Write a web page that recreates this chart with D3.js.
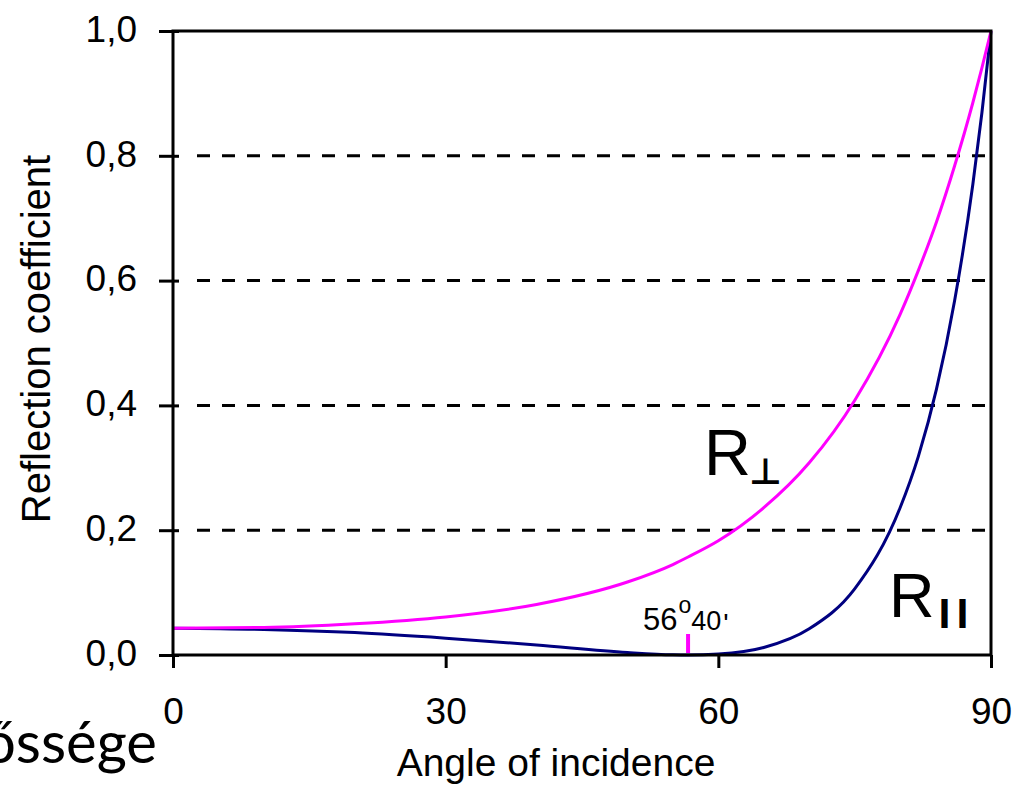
<!DOCTYPE html>
<html lang="en">
<head>
    <meta charset="UTF-8">
    <title>Reflection coefficient</title>
    <style>
        body { margin: 0; background: #fff; }
        text {
            font-family: "Liberation Sans", Arial, sans-serif;
            fill: black;
        }
        .tick text { font-size: 37px; }
        .tick line { stroke: black; stroke-width: 3px; }
        .grid { stroke: black; stroke-width: 3px; stroke-dasharray: 13, 12; }
    </style>
    <script src="https://d3js.org/d3.v7.min.js"></script>
</head>
<body>
    <svg width="1013" height="786"></svg>

    <script>
        // Angle of incidence (degrees) and reflection coefficients
        const angles = [0, 10, 20, 30, 40, 50, 55, 56.67, 60, 65, 70, 75, 80, 82, 84, 86, 88, 89, 90];
        const rPerp  = [0.043, 0.044, 0.050, 0.061, 0.081, 0.117, 0.145, 0.157, 0.183, 0.236, 0.308, 0.408, 0.546, 0.616, 0.694, 0.784, 0.885, 0.941, 1.0];
        const rPar   = [0.043, 0.041, 0.036, 0.027, 0.016, 0.004, 0.0003, 0, 0.0015, 0.012, 0.042, 0.106, 0.236, 0.318, 0.426, 0.568, 0.754, 0.869, 1.0];

        const xTicks = [0, 30, 60, 90];
        const yTicks = [0, 0.2, 0.4, 0.6, 0.8, 1.0];
        const brewster = 56.67;

        const svg = d3.select("svg");
        const mLeft = 173, mRight = 991, mTop = 31, mBottom = 655;

        const x = d3.scaleLinear().domain([0, 90]).range([mLeft, mRight]);
        const y = d3.scaleLinear().domain([0, 1]).range([mBottom, mTop]);

        // Dashed grid lines
        svg.selectAll(".grid")
            .data(yTicks.filter(v => v > 0 && v < 1))
            .enter()
            .append("line")
            .attr("class", "grid")
            .attr("x1", mLeft + 24)
            .attr("x2", mRight)
            .attr("y1", d => y(d))
            .attr("y2", d => y(d));

        // Curves
        const line = d3.line()
            .x(d => x(d[0]))
            .y(d => y(d[1]))
            .curve(d3.curveMonotoneX);

        svg.append("path")
            .datum(angles.map((a, i) => [a, rPar[i]]))
            .attr("d", line)
            .attr("fill", "none")
            .attr("stroke", "#000080")
            .attr("stroke-width", 3);

        svg.append("path")
            .datum(angles.map((a, i) => [a, rPerp[i]]))
            .attr("d", line)
            .attr("fill", "none")
            .attr("stroke", "#ff00ff")
            .attr("stroke-width", 3);

        // Plot frame
        svg.append("rect")
            .attr("x", mLeft)
            .attr("y", mTop)
            .attr("width", mRight - mLeft)
            .attr("height", mBottom - mTop)
            .attr("fill", "none")
            .attr("stroke", "black")
            .attr("stroke-width", 3);

        // Axes
        const yAxis = svg.append("g")
            .attr("transform", `translate(${mLeft},0)`)
            .call(d3.axisLeft(y)
                .tickValues(yTicks)
                .tickFormat(d => d3.format(".1f")(d).replace(".", ","))
                .tickSize(14)
                .tickPadding(22));
        yAxis.select(".domain").remove();
        yAxis.selectAll(".tick line").attr("x1", 6);
        yAxis.selectAll(".tick text").attr("dy", "0.28em");

        const xAxis = svg.append("g")
            .attr("transform", `translate(0,${mBottom})`)
            .call(d3.axisBottom(x)
                .tickValues(xTicks)
                .tickFormat(d3.format("d"))
                .tickSize(13)
                .tickPadding(30));
        xAxis.select(".domain").remove();

        // Axis titles
        svg.append("text")
            .attr("transform", "translate(50,339) rotate(-90)")
            .attr("text-anchor", "middle")
            .style("font-size", "40px")
            .text("Reflection coefficient");

        svg.append("text")
            .attr("x", 556)
            .attr("y", 776)
            .attr("text-anchor", "middle")
            .style("font-size", "39px")
            .text("Angle of incidence");

        // Brewster angle marker
        svg.append("line")
            .attr("x1", x(brewster))
            .attr("x2", x(brewster))
            .attr("y1", mBottom - 21)
            .attr("y2", mBottom - 2)
            .attr("stroke", "#ff00ff")
            .attr("stroke-width", 4);

        const bl = svg.append("text")
            .attr("x", 643)
            .attr("y", 630);
        bl.append("tspan").style("font-size", "31px").text("56");
        bl.append("tspan").style("font-size", "23px").attr("dx", 1).attr("dy", -17).text("o");
        bl.append("tspan").style("font-size", "27px").attr("dx", 0).attr("dy", 17).text("40");
        bl.append("tspan").style("font-size", "28px").attr("dx", 2).attr("dy", 3).text("'");

        // Curve labels
        const lp = svg.append("text")
            .attr("x", 704)
            .attr("y", 475);
        lp.append("tspan").style("font-size", "65px").text("R");
        lp.append("tspan")
            .style("font-family", "DejaVu Sans")
            .style("font-size", "36px")
            .style("font-weight", "bold")
            .attr("dx", -2)
            .attr("dy", 9)
            .text("⊥");

        const lq = svg.append("text")
            .attr("x", 889)
            .attr("y", 617);
        lq.append("tspan").style("font-size", "63px").text("R");
        lq.append("tspan")
            .style("font-size", "43px")
            .style("font-weight", "bold")
            .style("letter-spacing", "6px")
            .attr("dx", 4)
            .attr("dy", 11)
            .text("II");

        // Text fragment from the slide behind the chart
        svg.append("text")
            .attr("x", 157)
            .attr("y", 763)
            .attr("text-anchor", "end")
            .style("font-family", "Lato, 'Open Sans', sans-serif")
            .style("font-size", "58px")
            .text("őssége");
    </script>
</body>
</html>
